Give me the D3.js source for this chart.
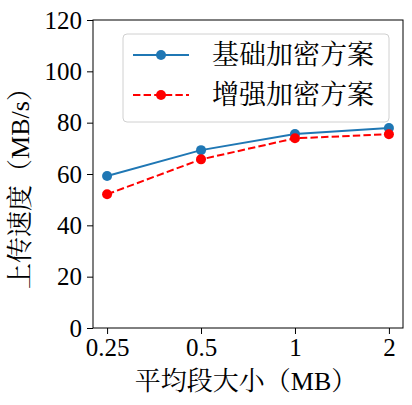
<!DOCTYPE html>
<html><head><meta charset="utf-8">
<script src="https://cdn.jsdelivr.net/npm/d3@7"></script>
<style>body{margin:0;background:#fff}svg{display:block}</style>
</head><body>
<script>
const categories = ["0.25", "0.5", "1", "2"];
const basicValues = [59.2, 69.3, 75.6, 77.9];
const enhancedValues = [52.1, 65.7, 73.9, 75.5];
const yTicks = [0, 20, 40, 60, 80, 100, 120];
const seriesNames = ["基础加密方案", "增强加密方案"];
const xLabelParts = [["平均段大小（", "cjk"], ["MB", "lat"], ["）", "cjk"]];
const yLabelParts = [["上传速度（", "cjk"], ["MB/s", "lat"], ["）", "cjk"]];

const W = 412, H = 405;
const m = {left: 93, right: 9, top: 20, bottom: 77};
const LAT = "'Liberation Serif'";
const CJK = "'Noto Serif CJK SC'";
const svg = d3.select("body").append("svg").attr("width", W).attr("height", H);

const x = d3.scaleLinear().domain([-0.15, 3.15]).range([m.left, W - m.right]);
const y = d3.scaleLinear().domain([0, 120]).range([H - m.bottom, m.top]);

const xAxis = d3.axisBottom(x).tickValues(d3.range(categories.length))
  .tickFormat(i => categories[i]).tickSize(6).tickPadding(4);
const yAxis = d3.axisLeft(y).tickValues(yTicks).tickSize(6).tickPadding(5);

const gx = svg.append("g").attr("transform", `translate(0,${H - m.bottom})`).call(xAxis);
const gy = svg.append("g").attr("transform", `translate(${m.left},0)`).call(yAxis);
[gx, gy].forEach(g => {
  g.attr("font-family", LAT).attr("font-size", 25);
  g.selectAll("text").style("font-size", "25px").style("font-family", LAT).attr("fill", "#000");
  g.selectAll("line").attr("stroke", "#000").attr("stroke-width", 1);
  g.select(".domain").remove();
});

svg.append("rect").attr("x", m.left).attr("y", m.top)
  .attr("width", W - m.right - m.left).attr("height", H - m.bottom - m.top)
  .attr("fill", "none").attr("stroke", "#000").attr("stroke-width", 1);

const series = [
  {name: seriesNames[0], values: basicValues, color: "#1f77b4", dash: null},
  {name: seriesNames[1], values: enhancedValues, color: "#ff0000", dash: "7.4,3.2"}
];
const line = d3.line().x((d, i) => x(i)).y(d => y(d));
series.forEach(s => {
  svg.append("path").datum(s.values).attr("d", line).attr("fill", "none")
    .attr("stroke", s.color).attr("stroke-width", 2).attr("stroke-dasharray", s.dash);
  svg.selectAll(null).data(s.values).enter().append("circle")
    .attr("cx", (d, i) => x(i)).attr("cy", d => y(d)).attr("r", 5).attr("fill", s.color);
});

// legend
const lg = svg.append("g");
lg.append("rect").attr("x", 123).attr("y", 34).attr("width", 266).attr("height", 88)
  .attr("rx", 4).attr("fill", "#fff").attr("fill-opacity", 0.8)
  .attr("stroke", "#d0d0d0").attr("stroke-width", 1);
series.forEach((s, i) => {
  const cy = 55 + i * 40;
  lg.append("line").attr("x1", 133).attr("x2", 189).attr("y1", cy).attr("y2", cy)
    .attr("stroke", s.color).attr("stroke-width", 2).attr("stroke-dasharray", s.dash);
  lg.append("circle").attr("cx", 161).attr("cy", cy).attr("r", 5).attr("fill", s.color);
  lg.append("text").attr("x", 212).attr("y", cy).attr("dy", "0.35em")
    .style("font-family", CJK).style("font-size", "27px").text(s.name);
});

function addParts(t, parts) {
  parts.forEach(([str, kind]) => {
    t.append("tspan").style("font-family", kind === "cjk" ? CJK : LAT).text(str);
  });
}
// axis labels
const xl = svg.append("text").attr("x", (m.left + W - m.right) / 2 - 2).attr("y", 381).attr("dy", "0.35em")
  .attr("text-anchor", "middle").style("font-size", "26px").style("font-family", CJK);
addParts(xl, xLabelParts);
const yl = svg.append("text").attr("transform", `translate(20,${(m.top + H - m.bottom) / 2 + 8}) rotate(-90)`)
  .attr("dy", "0.35em").attr("text-anchor", "middle").style("font-size", "26px").style("font-family", CJK);
addParts(yl, yLabelParts);
</script>
</body></html>
